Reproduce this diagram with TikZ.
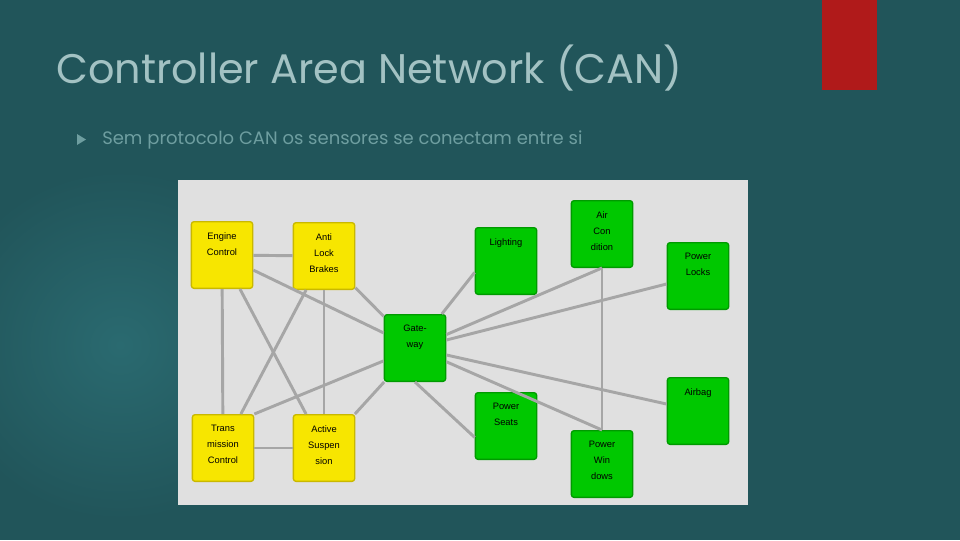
\documentclass[tikz,border=0pt]{standalone}
\usepackage{xcolor}
\usepackage{tikz}
\usepackage{fontspec}
\setmainfont{Liberation Sans}
\newfontfamily\titlefont{Poppins}
\usetikzlibrary{positioning, calc}
\definecolor{slidebg}{HTML}{21555A}
\definecolor{slideglow}{HTML}{2A6A70}
\definecolor{titlegray}{HTML}{A3C2C3}
\definecolor{subgray}{HTML}{6E9EA0}
\definecolor{accentred}{HTML}{B01A1A}
\definecolor{panelgray}{HTML}{E0E0E0}
\definecolor{ecuyellow}{HTML}{F7E600}
\definecolor{ecuyellowdk}{HTML}{C9B800}
\definecolor{ecugreen}{HTML}{00C800}
\definecolor{ecugreendk}{HTML}{009A00}
\definecolor{wiregray}{HTML}{A6A6A6}
\tikzstyle{wire} = [line width=2.2pt, wiregray]
\newcommand{\ecutext}[1]{\parbox[c][48pt][t]{44pt}{\centering\vspace{7pt}#1}}

\begin{document}
\begin{tikzpicture}[
    x=0.75pt, y=-0.75pt,
    ecu/.style={rectangle, rounded corners=2pt, line width=1pt, minimum width=46pt, minimum height=50pt, inner sep=0pt, font=\fontsize{7}{12}\selectfont},
    body/.style={ecu, draw=ecuyellowdk, fill=ecuyellow},
    comfort/.style={ecu, draw=ecugreendk, fill=ecugreen}
]
    \useasboundingbox (0,0) rectangle (960,540);
    \fill[slidebg] (0,0) rectangle (960,540);
    \shade[inner color=slideglow, outer color=slidebg] (-60,170) rectangle (300,520);
    \fill[accentred] (822,0) rectangle (877,90);

    \node[anchor=west, text=titlegray, font=\titlefont\fontsize{31}{36}\selectfont, inner sep=0pt] (title) at (56,68) {Controller Area Network (CAN)};
    \fill[subgray] (77,134) -- (86,139.5) -- (77,145) -- cycle;
    \node[anchor=west, text=subgray, font=\titlefont\fontsize{13.5}{16}\selectfont, inner sep=0pt] (subtitle) at (102,140) {Sem protocolo CAN os sensores se conectam entre si};

    \fill[panelgray] (178,180) rectangle (748,505);

    \node[body] (engine) at (222,255) {\ecutext{Engine\\Control}};
    \node[body] (antilock) at (324,256) {\ecutext{Anti\\Lock\\Brakes}};
    \node[body] (trans) at (223,448) {\ecutext{Trans\\mission\\Control}};
    \node[body] (active) at (324,448) {\ecutext{Active\\Suspen\\sion}};

    \node[comfort] (gateway) at (415,348) {\ecutext{Gate-\\way}};
    \node[comfort] (lighting) at (506,261) {\ecutext{Lighting}};
    \node[comfort] (aircon) at (602,234) {\ecutext{Air\\Con\\dition}};
    \node[comfort] (locks) at (698,276) {\ecutext{Power\\Locks}};
    \node[comfort] (airbag) at (698,411) {\ecutext{Airbag}};
    \node[comfort] (seats) at (506,426) {\ecutext{Power\\Seats}};
    \node[comfort] (windows) at (602,464) {\ecutext{Power\\Win\\dows}};

    \draw[wire] (engine) -- (antilock);
    \draw[wire] (engine) -- (trans);
    \draw[wire] (engine) -- (active);
    \draw[wire] (engine) -- (gateway);
    \draw[wire] (antilock) -- (trans);
    \draw[wire] (antilock) -- (active);
    \draw[wire] (antilock) -- (gateway);
    \draw[wire] (trans) -- (active);
    \draw[wire] (trans.north east) -- (gateway);
    \draw[wire] (active) -- (gateway);
    \draw[wire] (gateway) -- (lighting.200);
    \draw[wire] (gateway) -- (aircon.south);
    \draw[wire] (gateway) -- (locks);
    \draw[wire] (gateway) -- (airbag);
    \draw[wire] (gateway.south) -- (seats.200);
    \draw[wire] (gateway) -- (windows.north);
    \draw[wire] (aircon) -- (windows);
\end{tikzpicture}
\end{document}
